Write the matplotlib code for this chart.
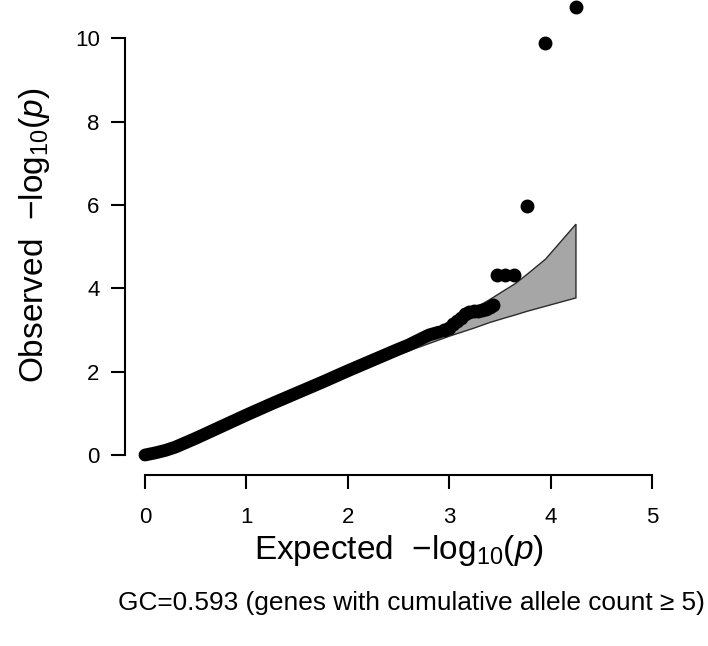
import matplotlib
matplotlib.use('Agg')
import numpy as np
import matplotlib.pyplot as plt

plt.rcParams['font.family'] = ['Liberation Sans', 'DejaVu Sans']
plt.rcParams['mathtext.fontset'] = 'custom'
plt.rcParams['mathtext.rm'] = 'Liberation Sans'
plt.rcParams['mathtext.it'] = 'Liberation Sans:italic'

# dense part of the observed curve (expected, observed -log10 p)
curve_x = [0.00, 0.10, 0.20, 0.30, 0.50, 0.75, 1.00, 1.25, 1.50, 1.75, 2.00, 2.25,
           2.50, 2.60, 2.70, 2.80, 2.90]
curve_y = [0.00, 0.05, 0.11, 0.19, 0.40, 0.68, 0.96, 1.23, 1.49, 1.75, 2.02, 2.28,
           2.54, 2.64, 2.76, 2.88, 2.95]

# sparse points at the tail
tail_x = [2.95, 3.00, 3.04, 3.08, 3.12, 3.16, 3.20, 3.24, 3.28, 3.32, 3.36, 3.40, 3.43,
          3.47, 3.55, 3.64, 3.77, 3.94, 4.25]
tail_y = [3.00, 3.06, 3.15, 3.22, 3.28, 3.38, 3.43, 3.45, 3.46, 3.48, 3.50, 3.56, 3.60,
          4.31, 4.31, 4.33, 5.98, 9.89, 10.75]

# 90% confidence band
band_x = [0.00, 1.00, 2.00, 2.50, 2.75, 3.00, 3.25, 3.40, 3.55, 3.65, 3.77, 3.95, 4.25]
band_hi = [0.00, 1.02, 2.06, 2.60, 2.88, 3.19, 3.52, 3.73, 3.96, 4.11, 4.34, 4.70, 5.54]
band_lo = [0.00, 0.98, 1.95, 2.41, 2.63, 2.85, 3.05, 3.18, 3.29, 3.36, 3.45, 3.57, 3.77]

x_ticks = [0, 1, 2, 3, 4, 5]
y_ticks = [0, 2, 4, 6, 8, 10]

W, H = 708, 646
fig = plt.figure(figsize=(W / 100, H / 100), dpi=100)
ax = fig.add_axes([124.7 / W, 1 - 475 / H, (672.3 - 124.7) / W, 475 / H])
ax.set_xlim(-0.2, 5.2)
ax.set_ylim(-0.48, 10.92)

poly_x = np.concatenate([band_x, band_x[::-1]])
poly_y = np.concatenate([band_hi, band_lo[::-1]])
ax.fill(poly_x, poly_y, facecolor='#a6a6a6', edgecolor='#2b2b2b', linewidth=1.0)

ax.plot(curve_x, curve_y, color='black', linewidth=9.2,
        solid_capstyle='round', solid_joinstyle='round')
ax.plot(tail_x, tail_y, 'o', color='black', markersize=9, clip_on=False)

for s in ['top', 'right']:
    ax.spines[s].set_visible(False)
ax.spines['left'].set_bounds(0, 10)
ax.spines['bottom'].set_bounds(0, 5)
ax.spines['left'].set_linewidth(1.5)
ax.spines['bottom'].set_linewidth(1.5)

ax.set_xticks(x_ticks)
ax.set_yticks(y_ticks)
ax.tick_params(length=10, width=1.5, labelsize=16, color='black')
ax.tick_params(axis='x', pad=13)
ax.tick_params(axis='y', pad=8)

lab = '  \u2212log$_{10}$($p$)'
fig.text(398.5 / W, 1 - 550 / H, 'Expected' + lab,
         ha='center', va='center', fontsize=24)
fig.text(35 / W, 1 - 235 / H, 'Observed' + lab,
         ha='center', va='center', fontsize=24, rotation=90)
fig.text(411 / W, 1 - 603 / H, 'GC=0.593 (genes with cumulative allele count ≥ 5)',
         ha='center', va='center', fontsize=18.9)

fig.savefig('out.png', dpi=100)
